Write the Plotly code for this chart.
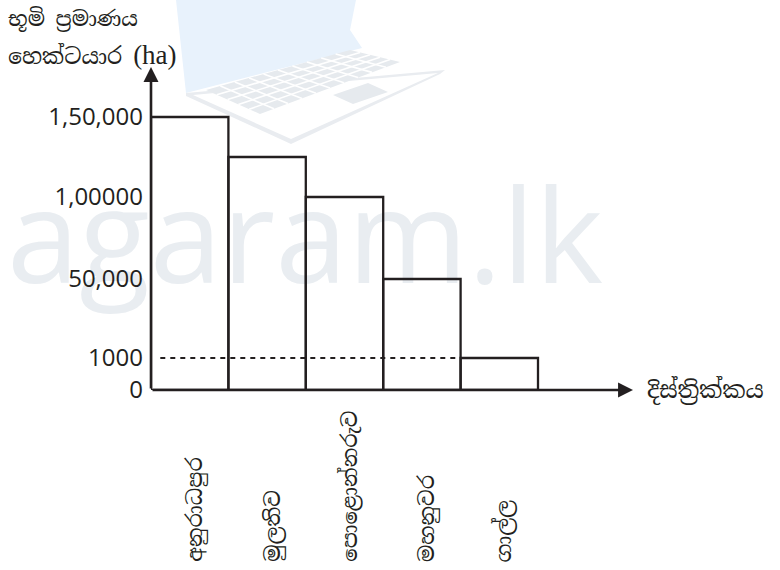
import numpy as np
import plotly.graph_objects as go

# ---- data ----
districts = ["අනුරාධපුර", "මුලතිව", "පොළොන්නරුව", "මහනුවර", "ගාල්ල"]
land_ha = [150000, 125000, 100000, 50000, 1000]
tick_values = [0, 1000, 50000, 100000, 150000]
tick_labels = ["0", "1000", "50,000", "1,00000", "1,50,000"]
ref_level = 1000

# schematic (non-linear) value scale used in the original drawing
scale_pos = [0, 32, 111, 193, 273]


def scale(v):
    return np.interp(v, tick_values, scale_pos)


INK = "#231f20"
SIN_FONT = "Noto Serif Sinhala, Noto Sans Sinhala, serif"

# plot area geometry (pixels)
L, R, T, B = 151, 147, 67, 180
W, H = 780, 570
PW, PH = W - L - R, H - T - B
bar_px = 77.4
YTOP = PH  # y axis range in scale units equals pixel height


def pp(px, py):
    return (px - L) / PW, (H - B - py) / PH


def path(points, close=True):
    s = ""
    for i, (px, py) in enumerate(points):
        x, y = pp(px, py)
        s += ("M" if i == 0 else "L") + f"{x:.4f},{y:.4f} "
    return s + ("Z" if close else "")


x = list(range(len(districts)))
fig = go.Figure()
fig.add_trace(go.Bar(
    x=x, y=scale(land_ha), width=1,
    marker=dict(color="rgba(0,0,0,0)", line=dict(color=INK, width=2.3)),
    hoverinfo="skip",
))

shapes = []
# background decoration: laptop sketch
shapes.append(dict(type="path", xref="paper", yref="paper", layer="below",
                   path=path([(176, 0), (356, 0), (350, 30), (362, 48), (186, 93)]),
                   fillcolor="rgba(232,242,252,1)", line=dict(width=0)))
shapes.append(dict(type="path", xref="paper", yref="paper", layer="below",
                   path=path([(186, 93), (445, 70), (440, 74), (291, 144), (186, 96)]),
                   fillcolor="rgba(233,236,240,1)", line=dict(width=0)))
shapes.append(dict(type="path", xref="paper", yref="paper", layer="below",
                   path=path([(193, 95), (438, 73), (291, 139)]),
                   fillcolor="white", line=dict(width=0)))
KA, KB, KC, KD = (206, 90), (350, 50), (400, 62), (260, 114)
shapes.append(dict(type="path", xref="paper", yref="paper", layer="below",
                   path=path([KA, KB, KC, KD]),
                   fillcolor="rgba(230,234,238,1)", line=dict(width=0)))


def lerp(p, q, t):
    return (p[0] + (q[0] - p[0]) * t, p[1] + (q[1] - p[1]) * t)


for t in [0.2, 0.4, 0.6, 0.8]:
    shapes.append(dict(type="path", xref="paper", yref="paper", layer="below",
                       path=path([lerp(KA, KD, t), lerp(KB, KC, t)], close=False),
                       line=dict(color="white", width=1.6)))
for s in np.linspace(0.1, 0.9, 9):
    shapes.append(dict(type="path", xref="paper", yref="paper", layer="below",
                       path=path([lerp(KA, KB, s), lerp(KD, KC, s)], close=False),
                       line=dict(color="white", width=1.6)))
shapes.append(dict(type="path", xref="paper", yref="paper", layer="below",
                   path=path([(333, 95), (368, 83), (388, 92), (353, 104)]),
                   fillcolor="rgba(230,234,238,1)", line=dict(width=0)))
# watermark text
wx0, wy0 = pp(-25, 306)
wx1, wy1 = pp(635, 176)
shapes.append(dict(type="rect", xref="paper", yref="paper", layer="below",
                   x0=wx0, x1=wx1, y0=wy0, y1=wy1,
                   line=dict(width=0), fillcolor="rgba(0,0,0,0)",
                   label=dict(text="agaram.lk", textposition="middle center",
                              font=dict(family="Open Sans", size=130, color="#e9edf1", weight=400))))
# dashed reference line at 1000 ha, up to the last bar
shapes.append(dict(type="line", xref="x", yref="y",
                   x0=-0.5 + 0.12, x1=x[-1] - 0.5,
                   y0=scale(ref_level), y1=scale(ref_level),
                   line=dict(color=INK, width=2, dash="5px,5px")))

annotations = []
x_max = -0.5 + PW / bar_px
# axes with arrows
annotations.append(dict(x=-0.5, y=YTOP, ax=-0.5, ay=0, xref="x", yref="y", axref="x", ayref="y",
                        text="", showarrow=True, arrowhead=2, arrowwidth=2.6, arrowsize=1.15,
                        arrowcolor=INK, standoff=0, startstandoff=0))
annotations.append(dict(x=x_max, y=0, ax=-0.5, ay=0, xref="x", yref="y", axref="x", ayref="y",
                        text="", showarrow=True, arrowhead=2, arrowwidth=2.6, arrowsize=1.15,
                        arrowcolor=INK, standoff=0, startstandoff=0))
# district labels (rotated, bottom aligned)
label_bottom = pp(0, 564)[1]
for xi, name in zip(x, districts):
    annotations.append(dict(x=xi + 0.06, y=label_bottom, xref="x", yref="paper",
                            text=name, textangle=-90, showarrow=False,
                            xanchor="center", yanchor="bottom",
                            font=dict(family=SIN_FONT, size=21, color=INK)))
# axis titles
tx, ty = pp(6, 3)
annotations.append(dict(x=tx, y=ty, xref="paper", yref="paper",
                        xanchor="left", yanchor="top", showarrow=False,
                        text="භූමි ප්‍රමාණය",
                        font=dict(family=SIN_FONT, size=21, color=INK)))
tx, ty = pp(6, 38)
annotations.append(dict(x=tx, y=ty, xref="paper", yref="paper",
                        xanchor="left", yanchor="top", showarrow=False,
                        text="හෙක්ටයාර <span style='font-family:Liberation Serif;font-size:27px'>(ha)</span>",
                        font=dict(family=SIN_FONT, size=22, color=INK)))
annotations.append(dict(x=x_max, y=0, xref="x", yref="y", xshift=12,
                        xanchor="left", yanchor="middle", showarrow=False,
                        text="දිස්ත්‍රික්කය",
                        font=dict(family=SIN_FONT, size=23, color=INK)))

fig.update_layout(
    width=W, height=H,
    margin=dict(l=L, r=R, t=T, b=B),
    paper_bgcolor="white", plot_bgcolor="rgba(0,0,0,0)",
    showlegend=False, hovermode=False,
    shapes=shapes, annotations=annotations,
    xaxis=dict(range=[-0.5, x_max], showgrid=False, zeroline=False, showline=False,
               showticklabels=False, ticks=""),
    yaxis=dict(range=[0, YTOP], showgrid=False, zeroline=False, showline=False,
               tickmode="array", tickvals=scale(tick_values), ticktext=tick_labels,
               ticks="", ticklabelstandoff=7,
               tickfont=dict(family="Open Sans", size=24, color=INK)),
)

fig.write_html("out.html", config={"displayModeBar": False},
               post_script="document.body.style.margin='0px';")
